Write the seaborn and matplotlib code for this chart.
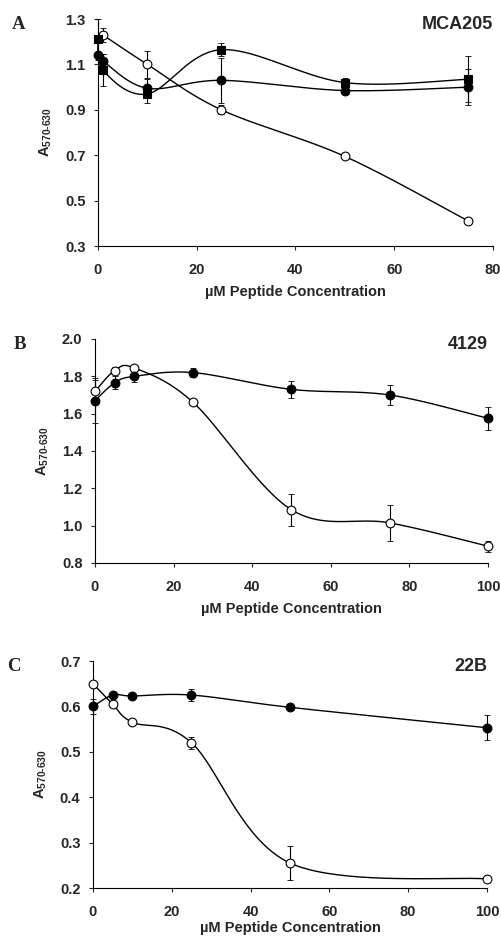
import numpy as np
import pandas as pd
import seaborn as sns
import matplotlib.pyplot as plt

# panel A (MCA205)
a_conc_sq = [0, 1, 10, 25, 50, 75]
a_sq = [1.21, 1.075, 0.97, 1.165, 1.02, 1.035]
a_sq_err = [0.09, 0.07, 0.04, 0.03, 0.02, 0.10]
a_conc_fc = [0, 1, 10, 25, 50, 75]
a_fc = [1.14, 1.115, 0.995, 1.03, 0.985, 1.0]
a_fc_err = [0.0, 0.03, 0.04, 0.10, 0.015, 0.08]
a_conc_oc = [1, 10, 25, 50, 75]
a_oc = [1.23, 1.10, 0.90, 0.695, 0.41]
a_oc_err = [0.03, 0.06, 0.02, 0.005, 0.015]

# panel B (4129)
b_conc = [0, 5, 10, 25, 50, 75, 100]
b_fc = [1.67, 1.765, 1.80, 1.82, 1.73, 1.70, 1.575]
b_fc_err = [0.12, 0.035, 0.03, 0.025, 0.045, 0.055, 0.06]
b_oc = [1.72, 1.83, 1.845, 1.66, 1.085, 1.015, 0.89]
b_oc_err = [0.06, 0.02, 0.01, 0.005, 0.085, 0.095, 0.03]

# panel C (22B)
c_conc = [0, 5, 10, 25, 50, 100]
c_fc = [0.60, 0.625, 0.623, 0.625, 0.598, 0.553]
c_fc_err = [0.016, 0.005, 0.005, 0.014, 0.005, 0.028]
c_oc = [0.65, 0.605, 0.565, 0.52, 0.255, 0.22]
c_oc_err = [0.005, 0.005, 0.005, 0.013, 0.038, 0.005]

sns.set_style('ticks')
plt.rcParams['font.family'] = ['Liberation Sans', 'DejaVu Sans']
plt.rcParams['mathtext.fontset'] = 'custom'
plt.rcParams['mathtext.rm'] = 'Liberation Sans:bold'
plt.rcParams['mathtext.bf'] = 'Liberation Sans:bold'


def smooth(ax, x, y, xlim, ylim, n=40):
    # excel-like smoothed line, done in axes-normalised space
    x = np.asarray(x, float); y = np.asarray(y, float)
    sx = (x - xlim[0]) / (xlim[1] - xlim[0])
    sy = (y - ylim[0]) / (ylim[1] - ylim[0]) * 0.6
    P = np.column_stack([sx, sy])
    P = np.vstack([P[0], P, P[-1]])
    out = []
    for i in range(1, len(P) - 2):
        p0, p1, p2, p3 = P[i - 1], P[i], P[i + 1], P[i + 2]
        c1 = p1 + (p2 - p0) / 6
        c2 = p2 - (p3 - p1) / 6
        t = np.linspace(0, 1, n)[:, None]
        seg = (1 - t) ** 3 * p1 + 3 * (1 - t) ** 2 * t * c1 + 3 * (1 - t) * t ** 2 * c2 + t ** 3 * p2
        out.append(seg)
    out = np.vstack(out)
    xs = out[:, 0] * (xlim[1] - xlim[0]) + xlim[0]
    ys = out[:, 1] / 0.6 * (ylim[1] - ylim[0]) + ylim[0]
    ax.plot(xs, ys, color='black', lw=1.0, zorder=2, clip_on=False)


def series(ax, x, y, err, marker, face, xlim, ylim):
    smooth(ax, x, y, xlim, ylim)
    eb = ax.errorbar(x, y, yerr=err, fmt='none', ecolor='black', elinewidth=0.8,
                     capsize=2, capthick=0.6, zorder=1)
    for art in eb.lines[1] + eb.lines[2]:
        art.set_clip_on(False)
    df = pd.DataFrame({'x': x, 'y': y})
    sns.scatterplot(data=df, x='x', y='y', ax=ax, marker=marker, s=40,
                    color=face, edgecolor='black', linewidth=0.8, zorder=3,
                    clip_on=False)


fig = plt.figure(figsize=(5.01, 9.38), dpi=100)
axA = fig.add_axes([0.1956, 0.7377, 0.7884, 0.242])
axB = fig.add_axes([0.1896, 0.3998, 0.7844, 0.2388])
axC = fig.add_axes([0.1856, 0.0533, 0.7864, 0.242])

# A
xlA, ylA = (0, 80), (0.3, 1.3)
series(axA, a_conc_oc, a_oc, a_oc_err, 'o', 'white', xlA, ylA)
series(axA, a_conc_fc, a_fc, a_fc_err, 'o', 'black', xlA, ylA)
series(axA, a_conc_sq, a_sq, a_sq_err, 's', 'black', xlA, ylA)
axA.set_xlim(xlA); axA.set_ylim(ylA)
axA.set_xticks([0, 20, 40, 60, 80])
axA.set_yticks([0.3, 0.5, 0.7, 0.9, 1.1, 1.3])

# B
xlB, ylB = (0, 100), (0.8, 2.0)
series(axB, b_conc, b_oc, b_oc_err, 'o', 'white', xlB, ylB)
series(axB, b_conc, b_fc, b_fc_err, 'o', 'black', xlB, ylB)
axB.set_xlim(xlB); axB.set_ylim(ylB)
axB.set_xticks(range(0, 101, 20))
axB.set_yticks(np.round(np.arange(0.8, 2.01, 0.2), 1))
axB.yaxis.set_major_formatter('{x:.1f}')

# C
xlC, ylC = (0, 100), (0.2, 0.7)
series(axC, c_conc, c_oc, c_oc_err, 'o', 'white', xlC, ylC)
series(axC, c_conc, c_fc, c_fc_err, 'o', 'black', xlC, ylC)
axC.set_xlim(xlC); axC.set_ylim(ylC)
axC.set_xticks(range(0, 101, 20))
axC.set_yticks([0.2, 0.3, 0.4, 0.5, 0.6, 0.7])

panels = [(axA, 'A', 'MCA205', -0.20, 6), (axB, 'B', '4129', -0.19, 6), (axC, 'C', '22B', -0.20, 2)]
for ax, letter, name, lx, lpad in panels:
    sns.despine(ax=ax)
    for s in ['left', 'bottom']:
        ax.spines[s].set_linewidth(0.8)
        ax.spines[s].set_color('black')
    ax.tick_params(axis='both', direction='out', length=3, width=0.8, labelsize=10.5)
    ax.tick_params(axis='x', pad=9)
    ax.tick_params(axis='y', pad=6)
    for lab in ax.get_xticklabels() + ax.get_yticklabels():
        lab.set_fontweight('bold')
    ax.set_xlabel(u'\u00b5M Peptide Concentration', fontsize=10.5, fontweight='bold', labelpad=lpad)
    ax.set_ylabel(r'A$_{570\text{-}630}$', fontsize=10.5, fontweight='bold', labelpad=8)
    ax.text(1.0, 0.975, name, transform=ax.transAxes, ha='right', va='center',
            fontsize=13, fontweight='bold')
    ax.text(lx, 0.975, letter, transform=ax.transAxes, ha='center', va='center',
            fontsize=13.5, fontweight='bold', family='Liberation Serif')

fig.savefig('out.png', dpi=100)
